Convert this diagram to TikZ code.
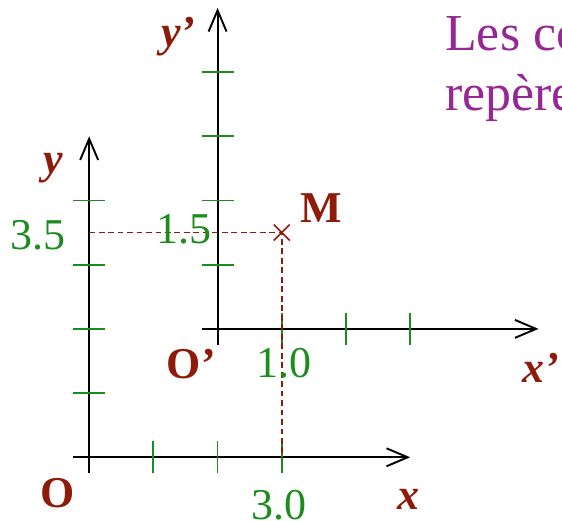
\documentclass[tikz,border=0pt]{standalone}
\usepackage{fontspec}
\setmainfont{Liberation Serif}
\usetikzlibrary{arrows.meta,calc}
\definecolor{brique}{HTML}{8E1A0A}
\definecolor{vertgrad}{HTML}{1C8C1C}
\definecolor{violet}{HTML}{962896}
\begin{document}
\begin{tikzpicture}[
    axe/.style={line width=0.85pt, -{Straight Barb[length=3.3mm, width=2.8mm, line width=0.85pt]}},
    grad/.style={vertgrad, line width=0.8pt},
    proj/.style={brique, line width=0.75pt, dash pattern=on 2.6pt off 1.6pt},
    nom/.style={brique, anchor=base, font=\fontsize{19.5}{24}\selectfont\bfseries\itshape},
    pt/.style={brique, anchor=base, font=\fontsize{19.5}{24}\selectfont\bfseries},
    val/.style={vertgrad, anchor=base, font=\fontsize{19.5}{24}\selectfont},
    titre/.style={violet, anchor=base west, inner sep=0pt, font=\fontsize{23}{28}\selectfont}
  ]
  \useasboundingbox (-1.389,-0.977) rectangle (7.365,7.123);
  \clip (-1.389,-0.977) rectangle (7.365,7.123);

  % repere (O,x,y)
  \coordinate (O) at (0,0);
  \draw[axe] (-0.25,0) -- (5,0);
  \draw[axe] (0,-0.25) -- (0,5);
  \foreach \i in {1,2,3}
    \draw[grad] (\i,-0.25) -- (\i,0.25);
  \foreach \i in {1,...,4}
    \draw[grad] (-0.25,\i) -- (0.25,\i);

  % repere (O',x',y')
  \coordinate (Op) at (2,2);
  \begin{scope}[shift={(Op)}]
    \draw[axe] (-0.25,0) -- (5,0);
    \draw[axe] (0,-0.25) -- (0,5);
    \foreach \i in {1,2,3}
      \draw[grad] (\i,-0.25) -- (\i,0.25);
    \foreach \i in {1,...,4}
      \draw[grad] (-0.25,\i) -- (0.25,\i);
  \end{scope}

  % point M et projections
  \coordinate (M) at (3,3.5);
  \coordinate (My) at (0,3.5);
  \coordinate (Mx) at (3,0);
  \draw[proj] (My) -- (M) -- (Mx);
  \draw[brique, line width=0.7pt] ($(M)+(-0.125,-0.125)$) -- ($(M)+(0.125,0.125)$)
    ($(M)+(-0.125,0.125)$) -- ($(M)+(0.125,-0.125)$);

  \node[pt] (nomM) at (3.62,3.66) {M};
  \node[pt] (nomO) at (-0.49,-0.78) {O};
  \node[pt] (nomOp) at (1.59,1.22) {O’};
  \node[nom] (nomx) at (4.97,-0.82) {x};
  \node[nom] (nomy) at (-0.56,4.42) {y};
  \node[nom, anchor=base west, inner sep=0pt] (nomxp) at (6.74,1.17) {x’};
  \node[nom] (nomyp) at (1.39,6.40) {y’};

  \node[val] (v35) at (-0.79,3.23) {3.5};
  \node[val] (v15) at (1.48,3.33) {1.5};
  \node[val] (v10) at (3.03,1.24) {1.0};
  \node[val] (v30) at (2.95,-0.97) {3.0};

  \node[titre] (titre1) at (5.54,6.33) {Les co};
  \node[titre] (titre2) at (5.54,5.40) {repère};
\end{tikzpicture}
\end{document}
